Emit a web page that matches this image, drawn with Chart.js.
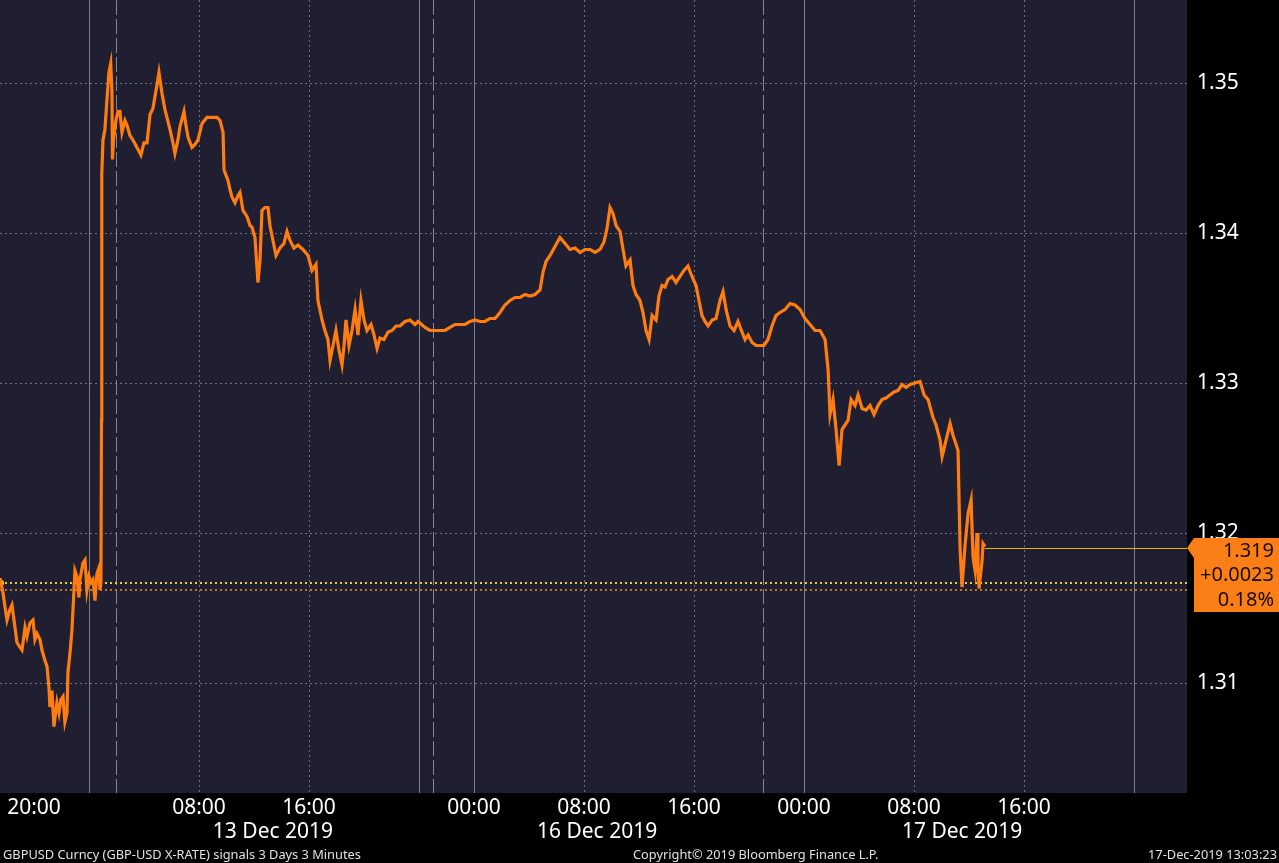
<!DOCTYPE html>
<html>
<head>
<meta charset="utf-8">
<script src="https://cdn.jsdelivr.net/npm/chart.js@4.4.1/dist/chart.umd.min.js"></script>
<style>
html,body{margin:0;padding:0;background:#000;overflow:hidden;}
canvas{display:block;}
</style>
</head>
<body>
<canvas id="c" width="1279" height="863"></canvas>
<script>
// ---- DATA (hours from 00:00 13 Dec 2019, weekend compressed) ----
const hours = [
-6.47,-6.25,-6.11,-5.96,-5.75,-5.60,-5.38,-5.24,-5.02,-4.87,-4.65,-4.51,-4.29,-4.07,-3.93,-3.78,-3.56,-3.42,-3.20,-3.05,
-2.91,-2.84,-2.69,-2.55,-2.33,-2.18,-2.04,-1.89,-1.75,-1.60,-1.53,-1.38,-1.24,-1.09,-1.02,-0.87,-0.73,-0.65,-0.44,-0.29,
-0.15,0.00,0.15,0.29,0.44,0.58,0.73,0.80,0.87,
0.91,0.93,1.02,1.16,1.31,1.45,1.58,1.67,1.71,1.78,1.96,2.11,2.25,2.40,2.62,2.76,2.98,3.20,3.49,3.78,
4.00,4.22,4.44,4.65,4.80,4.95,5.09,5.31,5.53,5.67,5.89,6.11,6.25,6.47,6.62,6.91,7.05,7.20,7.49,7.71,
7.93,8.22,8.58,9.02,9.31,9.53,9.75,9.82,10.11,10.25,10.40,10.62,10.84,10.98,11.20,11.49,11.71,11.85,12.07,12.29,
12.44,12.58,12.80,13.02,13.16,13.38,13.60,13.89,14.18,14.40,14.62,14.91,15.20,15.56,15.93,16.22,16.51,16.65,16.95,17.16,
17.38,17.53,17.75,17.96,18.18,18.40,18.55,18.69,18.91,19.13,19.35,19.56,19.78,20.00,20.22,20.51,20.73,20.95,21.16,21.45,
21.75,22.04,22.33,22.62,22.98,23.35,23.71,23.93,
24.44,24.80,25.16,25.53,25.89,26.25,26.62,26.98,27.35,27.71,28.07,28.44,28.80,29.16,29.53,29.89,30.25,30.62,30.98,31.35,
31.71,32.07,32.44,32.80,33.02,33.24,33.53,33.89,34.25,34.62,34.98,35.35,35.71,36.07,36.44,36.80,37.16,37.45,37.67,37.89,
38.11,38.33,38.62,38.84,39.05,39.35,39.56,39.78,40.07,40.29,40.51,40.73,40.95,41.24,41.45,41.67,41.89,42.11,42.40,42.69,
42.98,43.27,43.56,43.85,44.15,44.36,44.58,44.80,45.02,45.31,45.60,45.89,46.11,46.33,46.62,46.91,47.20,47.49,47.71,47.93,
48.22,48.51,48.80,49.09,49.38,49.67,49.96,50.25,50.62,50.98,51.35,51.71,52.07,52.44,52.80,53.16,53.53,53.75,53.89,54.11,
54.33,54.55,54.76,54.98,55.20,55.42,55.71,55.93,56.22,56.51,56.80,57.09,57.38,57.67,57.96,58.25,58.55,58.84,59.13,59.42,
59.71,60.07,60.44,60.73,61.02,61.38,61.60,61.89,62.04,62.25,62.62,62.84,63.13,63.20,63.35,63.49,63.71,63.93,64.15,64.29,
64.44,64.58,64.65,64.73,64.95,65.02,65.16
];
const gbpusd = [
1.3170,1.3160,1.3151,1.3142,1.3149,1.3152,1.3137,1.3127,1.3124,1.3122,1.3137,1.3131,1.3140,1.3142,1.3129,1.3133,1.3129,1.3122,1.3115,1.3111,
1.3097,1.3084,1.3095,1.3071,1.3087,1.3080,1.3089,1.3091,1.3074,1.3080,1.3107,1.3120,1.3135,1.3162,1.3175,1.3171,1.3157,1.3169,1.3180,1.3182,
1.3162,1.3171,1.3167,1.3169,1.3155,1.3173,1.3177,1.3162,1.3167,
1.3275,1.3439,1.3462,1.3469,1.3489,1.3507,1.3513,1.3495,1.3449,1.3462,1.3475,1.3481,1.3481,1.3467,1.3475,1.3472,1.3465,1.3462,1.3457,1.3452,
1.3460,1.3460,1.3479,1.3483,1.3491,1.3499,1.3507,1.3493,1.3482,1.3477,1.3469,1.3460,1.3453,1.3462,1.3471,1.3481,1.3472,1.3464,1.3457,1.3459,
1.3462,1.3473,1.3477,1.3477,1.3477,1.3475,1.3467,1.3442,1.3435,1.3429,1.3424,1.3420,1.3425,1.3427,1.3415,1.3411,1.3405,1.3404,1.3397,1.3367,
1.3382,1.3415,1.3417,1.3417,1.3405,1.3395,1.3385,1.3390,1.3393,1.3401,1.3395,1.3390,1.3392,1.3389,1.3385,1.3375,1.3379,1.3355,1.3342,1.3335,
1.3329,1.3315,1.3325,1.3335,1.3322,1.3312,1.3325,1.3342,1.3325,1.3335,1.3349,1.3332,1.3355,1.3342,1.3335,1.3339,1.3332,1.3323,1.3330,1.3329,
1.3334,1.3335,1.3338,1.3338,1.3341,1.3342,1.3339,1.3341,
1.3337,1.3335,1.3335,1.3335,1.3335,1.3337,1.3339,1.3339,1.3339,1.3341,1.3342,1.3341,1.3341,1.3343,1.3343,1.3347,1.3352,1.3355,1.3357,1.3357,
1.3359,1.3358,1.3359,1.3362,1.3374,1.3381,1.3385,1.3391,1.3397,1.3393,1.3389,1.3390,1.3387,1.3389,1.3389,1.3387,1.3389,1.3394,1.3403,1.3417,
1.3413,1.3405,1.3401,1.3389,1.3378,1.3382,1.3365,1.3359,1.3355,1.3347,1.3335,1.3329,1.3345,1.3342,1.3358,1.3365,1.3364,1.3369,1.3371,1.3367,
1.3371,1.3375,1.3378,1.3371,1.3365,1.3355,1.3345,1.3341,1.3338,1.3342,1.3343,1.3355,1.3361,1.3349,1.3338,1.3335,1.3341,1.3334,1.3329,1.3332,
1.3327,1.3325,1.3325,1.3325,1.3329,1.3338,1.3345,1.3347,1.3349,1.3353,1.3352,1.3349,1.3343,1.3339,1.3335,1.3335,1.3329,1.3309,1.3279,1.3289,
1.3269,1.3245,1.3269,1.3272,1.3275,1.3289,1.3285,1.3292,1.3283,1.3282,1.3285,1.3279,1.3285,1.3289,1.3290,1.3292,1.3294,1.3295,1.3299,1.3297,
1.3299,1.3300,1.3301,1.3292,1.3289,1.3277,1.3272,1.3262,1.3251,1.3259,1.3273,1.3265,1.3257,1.3255,1.3189,1.3164,1.3192,1.3213,1.3222,1.3184,
1.3175,1.3200,1.3177,1.3163,1.3182,1.3193,1.3191
];
const xTickHours  = [-4, 8, 16, 28, 36, 44, 52, 60, 68];
const xTickLabels = ['20:00','08:00','16:00','00:00','08:00','16:00','00:00','08:00','16:00'];
const dateLabels     = ['13 Dec 2019','16 Dec 2019','17 Dec 2019'];
const dateLabelHours = [13.38, 36.95, 63.49];
const yTicks = [1.31, 1.32, 1.33, 1.34, 1.35];
const dottedGridHours = [8, 16, 36, 44, 60, 68];
const dayLineHours    = [0, 24, 28, 52, 76];
const dashedMarkHours = [2, 25, 49];
const lastPrice = 1.319, netChange = '+0.0023', pctChange = '0.18%';
const prevClose = 1.3167, openLevel = 1.3162;
const xRange = [-6.47, 79.85];
const yRange = [1.30267, 1.35553];

const FONT = '"Noto Sans", "Liberation Sans", sans-serif';

const decor = {
  id: 'decor',
  beforeDraw(chart) {
    const {ctx, chartArea: a} = chart;
    ctx.save();
    ctx.fillStyle = '#000';
    ctx.fillRect(0, 0, chart.width, chart.height);
    ctx.fillStyle = '#1f1f31';
    ctx.fillRect(a.left, a.top, a.right - a.left, a.bottom - a.top);
    const xs = chart.scales.x, ys = chart.scales.y;
    ctx.strokeStyle = '#6f6f82'; ctx.lineWidth = 1; ctx.setLineDash([2, 3]);
    yTicks.forEach(v => {
      const y = Math.round(ys.getPixelForValue(v)) + 0.5;
      ctx.beginPath(); ctx.moveTo(a.left, y); ctx.lineTo(a.right, y); ctx.stroke();
    });
    dottedGridHours.forEach(h => {
      const x = Math.round(xs.getPixelForValue(h)) + 0.5;
      ctx.beginPath(); ctx.moveTo(x, a.top); ctx.lineTo(x, a.bottom); ctx.stroke();
    });
    ctx.setLineDash([]); ctx.strokeStyle = '#7d7d90';
    dayLineHours.forEach(h => {
      const x = Math.round(xs.getPixelForValue(h)) + 0.5;
      ctx.beginPath(); ctx.moveTo(x, a.top); ctx.lineTo(x, a.bottom); ctx.stroke();
    });
    ctx.setLineDash([15, 4]); ctx.strokeStyle = '#858598';
    dashedMarkHours.forEach(h => {
      const x = Math.round(xs.getPixelForValue(h)) + 0.5;
      ctx.beginPath(); ctx.moveTo(x, a.top); ctx.lineTo(x, a.bottom); ctx.stroke();
    });
    ctx.lineWidth = 2;
    ctx.setLineDash([2, 3]);
    ctx.strokeStyle = '#b8762a';
    let y = Math.round(ys.getPixelForValue(openLevel));
    ctx.beginPath(); ctx.moveTo(a.left, y); ctx.lineTo(a.right, y); ctx.stroke();
    ctx.strokeStyle = '#e8cf35';
    y = Math.round(ys.getPixelForValue(prevClose));
    ctx.beginPath(); ctx.moveTo(a.left, y); ctx.lineTo(a.right, y); ctx.stroke();
    ctx.setLineDash([]);
    ctx.fillStyle = '#e8cf35';
    ctx.beginPath(); ctx.arc(a.left + 1, y, 3, 0, Math.PI * 2); ctx.fill();
    ctx.lineWidth = 1; ctx.strokeStyle = '#e8b800';
    y = Math.round(ys.getPixelForValue(lastPrice)) + 0.5;
    const x0 = xs.getPixelForValue(hours[hours.length - 1]);
    ctx.beginPath(); ctx.moveTo(x0, y); ctx.lineTo(a.right, y); ctx.stroke();
    ctx.restore();
  },
  afterDraw(chart) {
    const {ctx, chartArea: a} = chart;
    const xs = chart.scales.x, ys = chart.scales.y;
    ctx.save();
    ctx.fillStyle = '#ffffff';
    ctx.font = '21px ' + FONT;
    ctx.textAlign = 'center'; ctx.textBaseline = 'middle';
    dateLabels.forEach((t, i) => ctx.fillText(t, xs.getPixelForValue(dateLabelHours[i]), 832));
    const yl = ys.getPixelForValue(lastPrice);
    ctx.fillStyle = '#fb7f16';
    ctx.beginPath();
    ctx.moveTo(a.right, yl);
    ctx.lineTo(a.right + 7, yl - 10);
    ctx.lineTo(chart.width, yl - 10);
    ctx.lineTo(chart.width, yl + 64);
    ctx.lineTo(a.right + 7, yl + 64);
    ctx.lineTo(a.right + 7, yl + 10);
    ctx.closePath(); ctx.fill();
    ctx.fillStyle = '#160c04';
    ctx.font = '20px ' + FONT;
    ctx.textAlign = 'right';
    ctx.fillText(lastPrice.toFixed(3), 1274, yl + 3);
    ctx.fillText(netChange, 1274, yl + 27);
    ctx.fillText(pctChange, 1274, yl + 52);
    ctx.font = '12.8px ' + FONT;
    ctx.fillStyle = '#e0e0e0';
    ctx.textAlign = 'left';
    ctx.fillText('GBPUSD Curncy (GBP-USD X-RATE) signals 3 Days 3 Minutes', 3, 855);
    ctx.fillText('Copyright\u00a9 2019 Bloomberg Finance L.P.', 633, 855);
    ctx.textAlign = 'right';
    ctx.fillText('17-Dec-2019 13:03:23', 1277, 855);
    ctx.restore();
  }
};

new Chart(document.getElementById('c'), {
  type: 'line',
  data: {
    datasets: [{
      data: hours.map((h, i) => ({x: h, y: gbpusd[i]})),
      borderColor: '#ff7d10',
      borderWidth: 3.2,
      pointRadius: 0,
      tension: 0,
      fill: false
    }]
  },
  options: {
    responsive: false,
    animation: false,
    devicePixelRatio: 1,
    layout: {padding: 0},
    plugins: {legend: {display: false}, tooltip: {enabled: false}},
    scales: {
      x: {
        type: 'linear', position: 'bottom', min: xRange[0], max: xRange[1],
        grid: {display: false, drawTicks: false}, border: {display: false},
        afterBuildTicks: s => { s.ticks = xTickHours.map(v => ({value: v})); },
        afterFit: s => { s.height = 70; s.paddingLeft = 0; s.paddingRight = 0; },
        ticks: {
          autoSkip: false, maxRotation: 0, padding: 2, color: '#ffffff',
          font: {family: FONT, size: 21},
          callback: v => { const i = xTickHours.indexOf(v); return i >= 0 ? xTickLabels[i] : ''; }
        }
      },
      y: {
        type: 'linear', position: 'right', min: yRange[0], max: yRange[1],
        grid: {display: false, drawTicks: false}, border: {display: false},
        afterBuildTicks: s => { s.ticks = yTicks.map(v => ({value: v})); },
        afterFit: s => { s.width = 92; s.paddingTop = 0; s.paddingBottom = 0; },
        ticks: {
          padding: 10, color: '#ffffff', font: {family: FONT, size: 21},
          callback: v => v.toFixed(2)
        }
      }
    }
  },
  plugins: [decor]
});
</script>
</body>
</html>
